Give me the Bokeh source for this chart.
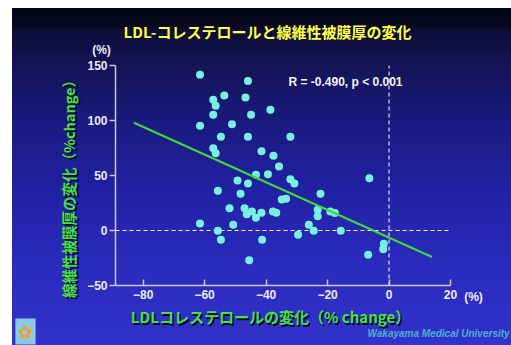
import math
from bokeh.plotting import figure
from bokeh.models import Label, FixedTicker, Spacer, LinearAxis
from bokeh.layouts import row, column
from bokeh.embed import file_html
from bokeh.resources import INLINE

# ---- data ----
ldl_change = [-61.5, -45.9, -53.6, -57.2, -56.4, -46.7, -38.6, -57.2, -44.9, -61.5,
              -51.1, -54.7, -45.9, -32.1, -57.2, -56.4, -41.5, -37.6, -35.8, -43.3,
              -39.4, -49.3, -45.9, -32.1, -30.8, -6.4, -55.7, -48.3, -22.3, -34.9,
              -33.5, -51.9, -47.0, -46.3, -44.6, -43.3, -41.5, -37.8, -36.7, -23.2,
              -23.2, -19.1, -17.6, -61.5, -50.7, -55.7, -26.1, -24.5, -15.7, -54.7,
              -41.3, -29.6, -45.5, -6.8, -1.7, -1.9]
fct_change = [141.5, 136.0, 122.7, 118.8, 113.3, 120.9, 109.7, 105.2, 105.2, 95.2,
              96.6, 85.2, 85.2, 85.2, 74.8, 70.3, 72.1, 67.9, 58.2, 50.6,
              51.2, 45.5, 42.7, 46.7, 42.7, 47.6, 36.1, 33.3, 33.3, 28.2,
              28.8, 20.3, 20.3, 14.8, 17.3, 11.5, 16.1, 17.3, 16.1, 18.8,
              13.0, 17.3, 15.8, 6.4, 5.2, -0.3, 5.2, -0.3, -0.3, -8.5,
              -8.5, -3.9, -27.0, -22.1, -12.1, -17.0]
faint_x = [2.3]
faint_y = [18.8]
reg_x = [-83, 14]
reg_y = [98, -24]
x_ticks = [-80, -60, -40, -20, 0, 20]
y_ticks = [-50, 0, 50, 100, 150]
x_bounds = (-89, 20)
y_bounds = (-50, 150)

title_text = "LDL-コレステロールと線維性被膜厚の変化"
x_label_text = "LDLコレステロールの変化（% change）"
y_label_text = "線維性被膜厚の変化（%change）"
stat_text = "R = -0.490, p < 0.001"
credit_text = "Wakayama Medical University"

# ---- page geometry (figure placed at page x=12, y=8; frame fills the figure) ----
PX0, PY0 = 12, 8
W, H = 499, 337
AX_LEFT_PX, AX_RIGHT_PX = 115, 450     # page x of x = -89 and x = 20
AX_TOP_PX, AX_BOT_PX = 65, 285         # page y of y = 150 and y = -50
SX = (AX_RIGHT_PX - AX_LEFT_PX) / (x_bounds[1] - x_bounds[0])
SY = (AX_BOT_PX - AX_TOP_PX) / (y_bounds[1] - y_bounds[0])


def dx(px):
    return x_bounds[0] + (px - AX_LEFT_PX) / SX


def dy(py):
    return y_bounds[1] - (py - AX_TOP_PX) / SY


p = figure(width=W, height=H,
           x_range=(dx(PX0), dx(PX0 + W)), y_range=(dy(PY0 + H), dy(PY0)),
           output_backend="svg", toolbar_location=None,
           x_axis_location=None, y_axis_location=None,
           min_border=0, min_border_left=0, min_border_right=0,
           min_border_top=0, min_border_bottom=0)
p.title.visible = False
p.background_fill_color = None
p.border_fill_color = None
p.outline_line_color = None
p.grid.visible = False
p.styles = {"background": "linear-gradient(to bottom, #040412 0%, #08081f 5.6%, "
                          "#0d0d36 6.2%, #141458 18%, #1a1a80 34%, #2020a0 52%, "
                          "#2828b8 70%, #2e2ec4 88%, #3232cc 100%)"}

axis_col = "#c8c8d8"
xax = LinearAxis(fixed_location=y_bounds[0], bounds=x_bounds,
                 ticker=FixedTicker(ticks=x_ticks))
yax = LinearAxis(fixed_location=x_bounds[0], bounds=y_bounds,
                 ticker=FixedTicker(ticks=y_ticks))
for ax in (xax, yax):
    ax.axis_line_color = axis_col
    ax.axis_line_width = 1.5
    ax.major_tick_line_color = axis_col
    ax.major_tick_line_width = 1.5
    ax.minor_tick_line_color = None
    ax.major_label_text_color = "#ececf4"
    ax.major_label_text_font = "Liberation Sans"
    ax.major_label_text_font_style = "bold"
    ax.major_label_text_font_size = "12px"
xax.major_tick_in = 6
xax.major_tick_out = 0
xax.major_label_standoff = 4
yax.major_tick_in = 0
yax.major_tick_out = 6
yax.major_label_standoff = 2
p.add_layout(xax, "below")
p.add_layout(yax, "left")

# dashed zero reference lines
p.line(list(x_bounds), [0, 0], line_color="white", line_dash="4 3", line_width=1)
p.line([0, 0], list(y_bounds), line_color="white", line_dash="4 3", line_width=1)

p.scatter(faint_x, faint_y, size=7, color="#1e2c8c", line_color=None)
p.scatter(ldl_change, fct_change, size=8, color="#78f0e0", line_color=None)
p.line(reg_x, reg_y, line_color="#3cd83c", line_width=2.2)


def add_label(text, px, py, size, color, align="center", angle=0.0,
              font="Noto Sans CJK JP", style="bold", shadow=False, **kw):
    if shadow:
        p.add_layout(Label(x=dx(px + 1.5), y=dy(py + 1.5), text=text, text_align=align,
                           text_baseline="middle", angle=angle,
                           text_font=font, text_font_style=style,
                           text_font_size=size, text_color="#050520"))
    p.add_layout(Label(x=dx(px), y=dy(py), text=text, text_align=align,
                       text_baseline="middle", angle=angle,
                       text_font=font, text_font_style=style,
                       text_font_size=size, text_color=color, **kw))


add_label(title_text, 267, 31, "15px", "#ffff44")
add_label(y_label_text, 68, 185, "14.5px", "#48e048", angle=math.pi / 2, shadow=True)
add_label(x_label_text, 270, 316, "15px", "#48e048", shadow=True)
add_label("(%)", 101, 49, "12px", "#ececf4", font="Liberation Sans")
add_label("(%)", 473, 296, "12px", "#ececf4", font="Liberation Sans")
add_label(stat_text, 345, 81, "12px", "#f4f4f8", font="Liberation Sans")
add_label(credit_text, 367, 333, "10px", "#4ab0d0", align="left",
          font="Liberation Sans", style="bold italic")
add_label("✿", 25, 331, "17px", "#f0a030", font="DejaVu Sans", style="normal",
          background_fill_color="#8cc8e0", padding=3)

layout = row(Spacer(width=PX0, height=H), column(Spacer(width=W, height=PY0), p))
open("out.html", "w").write(file_html(layout, INLINE))
